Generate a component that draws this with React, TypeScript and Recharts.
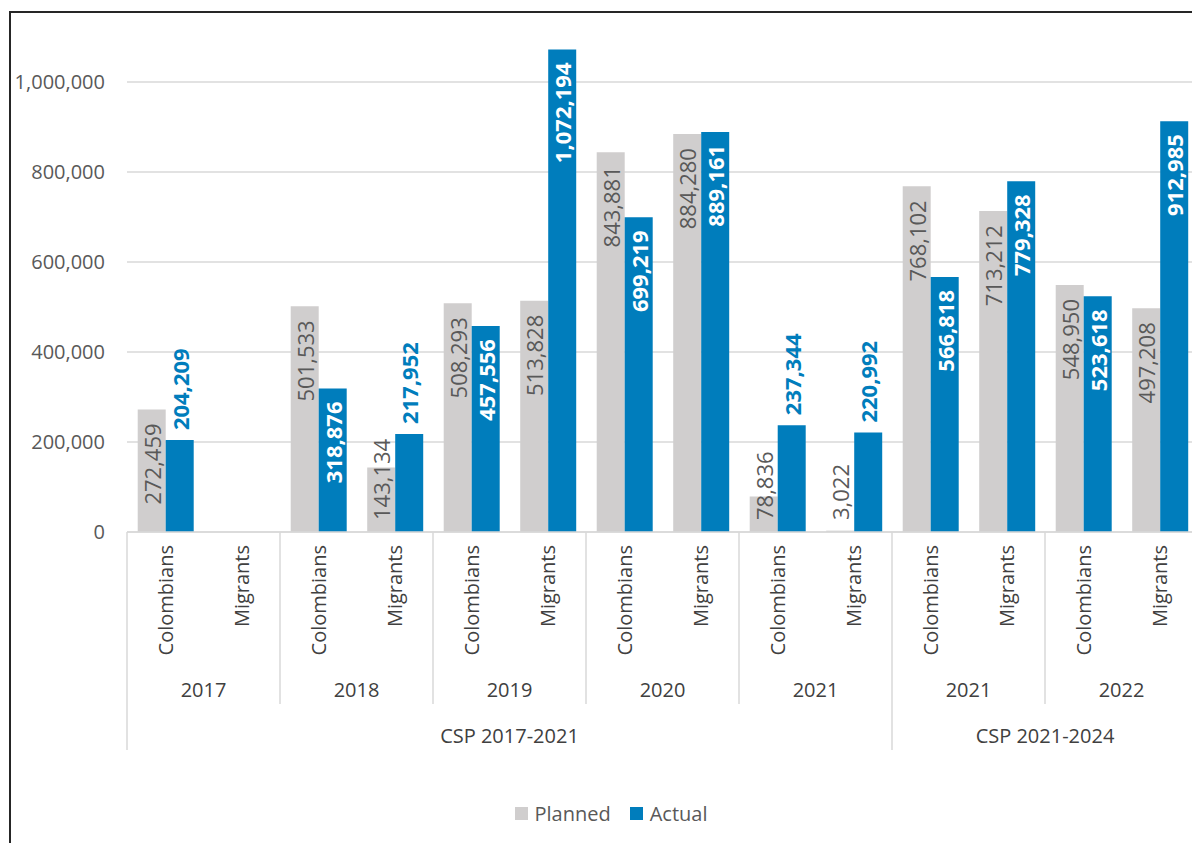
import React from "react";
import { BarChart, Bar, XAxis, YAxis, CartesianGrid, LabelList, Legend } from "recharts";

const categories = [
  "Colombians", "Migrants", "Colombians", "Migrants", "Colombians", "Migrants",
  "Colombians", "Migrants", "Colombians", "Migrants", "Colombians", "Migrants",
  "Colombians", "Migrants",
];
const yearLabels = ["2017", "2018", "2019", "2020", "2021", "2021", "2022"];
const cspLabels = ["CSP 2017-2021", "CSP 2021-2024"];
const cspYearCounts = [5, 2];
const planned = [272459, null, 501533, 143134, 508293, 513828, 843881, 884280, 78836, 3022, 768102, 713212, 548950, 497208];
const actual = [204209, null, 318876, 217952, 457556, 1072194, 699219, 889161, 237344, 220992, 566818, 779328, 523618, 912985];
const yTicks = [0, 200000, 400000, 600000, 800000, 1000000];

const data = categories.map((c, i) => ({ key: i, category: c, planned: planned[i], actual: actual[i] }));

const GREY = "#d0cece";
const BLUE = "#007dbc";
const TEXT = "#595959";
const DARK = "#404040";
const GRID = "#d9d9d9";
const CHART_W = 1210;
const Y_W = 127;
const M_RIGHT = 12;
const BAND = (CHART_W - Y_W - M_RIGHT) / categories.length;

const fmt = (v: number) => v.toLocaleString("en-US");
const approxLen = (s: string, bold: boolean) => {
  let n = 0;
  for (const ch of s) n += ch === "," ? (bold ? 0.29 : 0.25) : 0.572;
  return n * 22;
};

const cspStarts: number[] = [];
{
  let acc = 0;
  for (const c of cspYearCounts) {
    cspStarts.push(acc * 2);
    acc += c;
  }
}

function CategoryTick(props: any) {
  const { x, y, index } = props;
  const els: React.ReactNode[] = [];
  const ty = y + 13;
  els.push(
    <text key="c" x={x} y={ty} transform={`rotate(-90 ${x} ${ty})`} textAnchor="end" dominantBaseline="central" fontSize={20} fill={DARK}>
      {categories[index]}
    </text>
  );
  if (index % 2 === 0) {
    const g = index / 2;
    const left = x - BAND / 2;
    const cspIdx = cspStarts.indexOf(index);
    const isCsp = cspIdx >= 0;
    els.push(<line key="s" x1={left} x2={left} y1={y} y2={y + (isCsp ? 218 : 172)} stroke={GRID} strokeWidth={1.5} />);
    els.push(
      <text key="y" x={x + BAND / 2} y={y + 157} textAnchor="middle" dominantBaseline="central" fontSize={20} fill={DARK}>
        {yearLabels[g]}
      </text>
    );
    if (isCsp) {
      const span = cspYearCounts[cspIdx] * 2 * BAND;
      els.push(
        <text key="p" x={left + span / 2} y={y + 203} textAnchor="middle" dominantBaseline="central" fontSize={20} fill={DARK}>
          {cspLabels[cspIdx]}
        </text>
      );
    }
  }
  if (index === categories.length - 1) {
    const right = x + BAND / 2;
    els.push(<line key="e" x1={right} x2={right} y1={y} y2={y + 218} stroke={GRID} strokeWidth={1.5} />);
  }
  return <g>{els}</g>;
}

function PlannedLabel(props: any) {
  const { x, y, width, height, value } = props;
  if (value == null) return null;
  const s = fmt(Number(value));
  const cx = x + width / 2;
  const base = y + height;
  const len = approxLen(s, false);
  let ay: number;
  let anchor: "start" | "end";
  if (height >= len + 30) {
    ay = y + 14;
    anchor = "end";
  } else {
    ay = base - 12;
    anchor = "start";
  }
  return (
    <text x={cx} y={ay} transform={`rotate(-90 ${cx} ${ay})`} textAnchor={anchor} dominantBaseline="central" fontSize={22} fill={TEXT}>
      {s}
    </text>
  );
}

function ActualLabel(props: any) {
  const { x, y, width, height, value } = props;
  if (value == null) return null;
  const s = fmt(Number(value));
  const cx = x + width / 2;
  const len = approxLen(s, true);
  let ay: number;
  let anchor: "start" | "end";
  let fill: string;
  if (height >= len + 30) {
    ay = y + 13;
    anchor = "end";
    fill = "#ffffff";
  } else {
    ay = y - 10;
    anchor = "start";
    fill = BLUE;
  }
  return (
    <text x={cx} y={ay} transform={`rotate(-90 ${cx} ${ay})`} textAnchor={anchor} dominantBaseline="central" fontSize={22} fontWeight="bold" fill={fill}>
      {s}
    </text>
  );
}

function LegendContent() {
  const item = (color: string, label: string) => (
    <div style={{ display: "flex", alignItems: "center", marginRight: 19 }}>
      <div style={{ width: 13, height: 13, background: color, marginRight: 7 }} />
      <span>{label}</span>
    </div>
  );
  return (
    <div style={{ display: "flex", justifyContent: "center", alignItems: "center", height: 60, paddingLeft: 43, fontSize: 20, color: TEXT }}>
      {item(GREY, "Planned")}
      {item(BLUE, "Actual")}
    </div>
  );
}

export default function App() {
  return (
    <div style={{ position: "fixed", left: 0, top: 0, width: 1192, height: 843, overflow: "hidden", background: "#fff", fontFamily: "'Open Sans', sans-serif" }}>
      <div style={{ position: "absolute", left: 9, top: 11, width: 1300, height: 900, borderLeft: "2px solid #262626", borderTop: "2px solid #262626" }} />
      <div style={{ position: "absolute", left: 0, top: 0 }}>
        <BarChart width={CHART_W} height={843} data={data} margin={{ top: 37, right: M_RIGHT, left: 0, bottom: 0 }} barCategoryGap="14%" barGap={0}>
          <CartesianGrid vertical={false} stroke={GRID} strokeWidth={1.5} syncWithTicks={true} />
          <XAxis dataKey="key" type="category" interval={0} height={251} tickSize={0} tickMargin={0} axisLine={{ stroke: GRID, strokeWidth: 1.5 }} tickLine={false} tick={<CategoryTick />} />
          <YAxis width={Y_W} domain={[0, 1100000]} ticks={yTicks} tickFormatter={(v: number) => fmt(v)} axisLine={false} tickLine={false} tickSize={0} tickMargin={22} tick={{ fontSize: 20, fill: TEXT }} />
          <Legend verticalAlign="bottom" height={60} content={<LegendContent />} />
          <Bar dataKey="planned" fill={GREY} isAnimationActive={false}>
            <LabelList dataKey="planned" content={<PlannedLabel />} />
          </Bar>
          <Bar dataKey="actual" fill={BLUE} isAnimationActive={false}>
            <LabelList dataKey="actual" content={<ActualLabel />} />
          </Bar>
        </BarChart>
      </div>
    </div>
  );
}
